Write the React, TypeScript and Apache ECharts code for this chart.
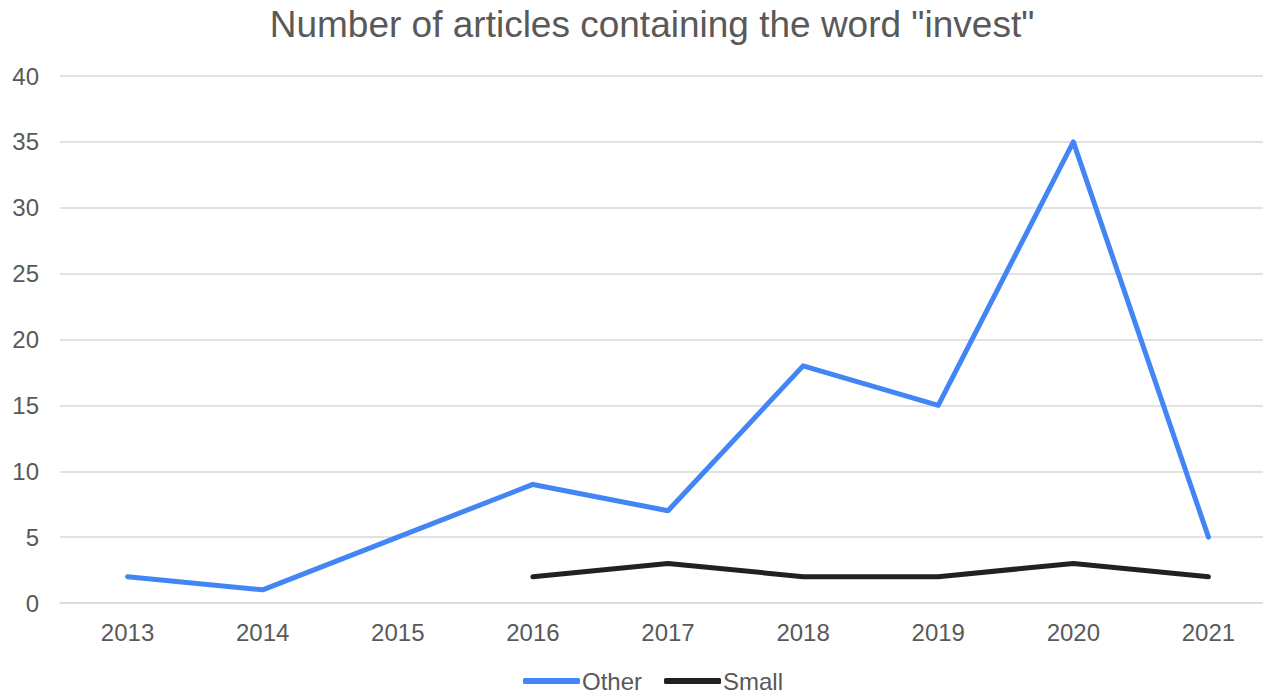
import React, { useEffect, useRef } from "react";
import * as echarts from "echarts";

const years = ["2013", "2014", "2015", "2016", "2017", "2018", "2019", "2020", "2021"];
const otherValues = [2, 1, 5, 9, 7, 18, 15, 35, 5];
const smallValues = [null, null, null, 2, 3, 2, 2, 3, 2];
const titleText = 'Number of articles containing the word "invest"';

export default function App() {
  const ref = useRef<HTMLDivElement>(null);
  useEffect(() => {
    if (!ref.current) return;
    const chart = echarts.init(ref.current, null, { renderer: "svg" });
    const font = "Liberation Sans, Arial, sans-serif";
    chart.setOption({
      animation: false,
      backgroundColor: "#ffffff",
      title: {
        text: titleText,
        left: 647,
        top: 1,
        textAlign: "center",
        textStyle: { fontFamily: font, fontSize: 37, fontWeight: "normal", color: "#595959" },
      },
      legend: {
        top: 664,
        left: 518,
        itemWidth: 57,
        itemHeight: 6,
        itemGap: 22,
        icon: "roundRect",
        textStyle: { fontFamily: font, fontSize: 24, lineHeight: 24, color: "#595959", padding: [0, 0, 0, -3] },
        data: ["Other", "Small"],
      },
      grid: { left: 60, right: 0, top: 76, bottom: 91, containLabel: false },
      xAxis: {
        type: "category",
        data: years,
        boundaryGap: true,
        axisLine: { show: true, lineStyle: { color: "#d9d9d9", width: 1.5 } },
        axisTick: { show: false },
        axisLabel: { fontFamily: font, fontSize: 24, color: "#595959", margin: 17 },
      },
      yAxis: {
        type: "value",
        min: 0,
        max: 40,
        interval: 5,
        axisLine: { show: false },
        axisTick: { show: false },
        splitLine: { lineStyle: { color: "#d9d9d9", width: 1.5 } },
        axisLabel: { fontFamily: font, fontSize: 24, color: "#595959", margin: 21 },
      },
      series: [
        {
          name: "Other",
          type: "line",
          data: otherValues,
          symbol: "none",
          lineStyle: { color: "#4285f4", width: 5, cap: "round", join: "round" },
          itemStyle: { color: "#4285f4" },
        },
        {
          name: "Small",
          type: "line",
          data: smallValues,
          symbol: "none",
          lineStyle: { color: "#212121", width: 5, cap: "round", join: "round" },
          itemStyle: { color: "#212121" },
        },
      ],
    });
    return () => chart.dispose();
  }, []);
  return (
    <div style={{ position: "absolute", left: 0, top: 0, width: 1263, height: 694, overflow: "hidden" }}>
      <div ref={ref} style={{ position: "absolute", left: 0, top: 0, width: 1276, height: 694 }} />
    </div>
  );
}
